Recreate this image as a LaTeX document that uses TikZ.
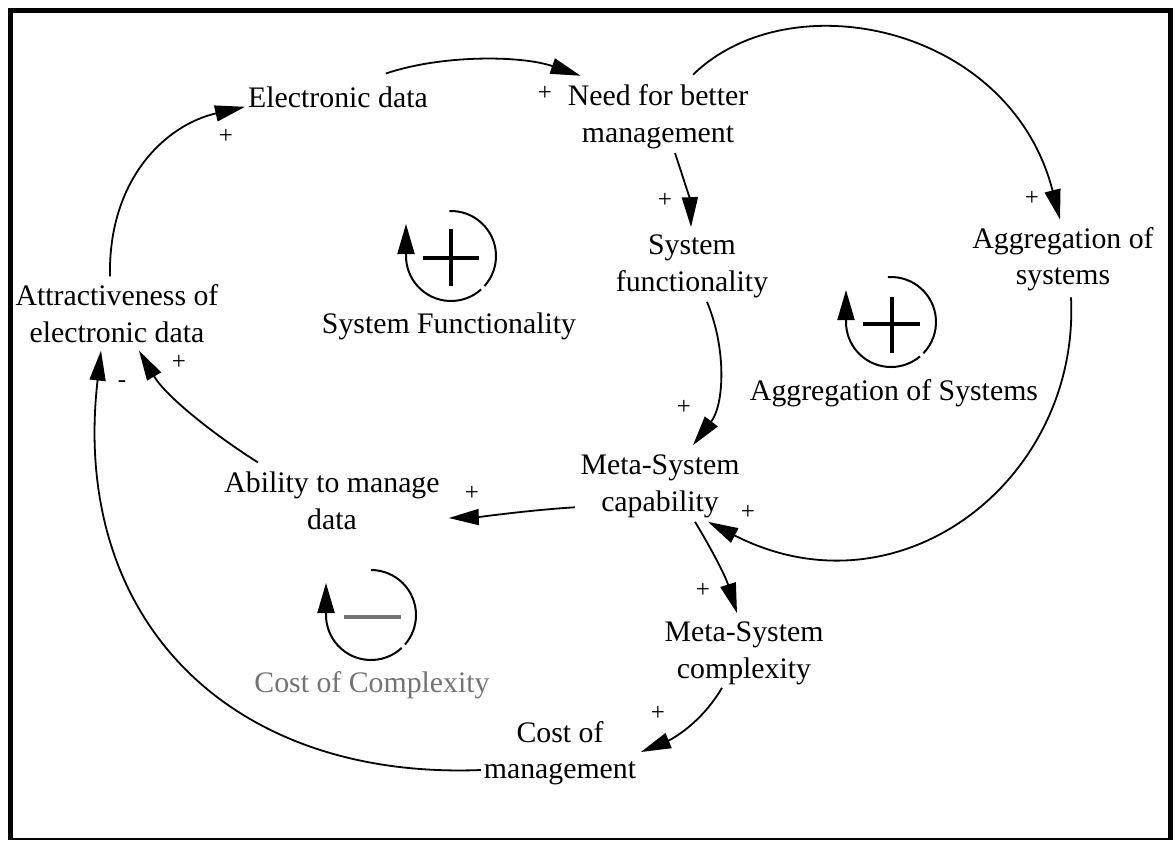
\documentclass[tikz,border=0pt]{standalone}
\usepackage{fontspec}
\setmainfont{Liberation Serif}
\usetikzlibrary{arrows.meta,calc}
\definecolor{loopgrey}{gray}{0.45}
\begin{document}
\begin{tikzpicture}[x=1pt,y=-1pt,
  var/.style={inner sep=0pt,align=center,font=\fontsize{29.8pt}{36.5pt}\selectfont},
  pol/.style={inner sep=0pt,font=\fontsize{25pt}{25pt}\selectfont},
  link/.style={line width=1.8pt,-{Triangle[length=30pt,width=16pt]}},
  loopline/.style={line width=2pt},
  looptip/.style={line width=2pt,-{Triangle[length=30pt,width=17pt]}},
  loopmark/.style={line width=3.5pt},
]
\useasboundingbox (0,0) rectangle (1175,841);

% outer frame
\draw[line width=5pt] (10.5,838) -- (10.5,10.5) -- (1170.5,10.5) -- (1170.5,838);
\draw[line width=2pt] (8,838.5) -- (1173,838.5);

% variables
\node[var] (ed)   at (338,97.8)   {Electronic data};
\node[var] (need) at (658,116.5)  {Need for better\\management};
\node[var] (sf)   at (692,266.3)  {System\\functionality};
\node[var] (agg)  at (1063,259.3) {Aggregation of\\systems};
\node[var] (attr) at (117,313.5)  {Attractiveness of\\electronic data};
\node[var] (abl)  at (332,501)    {Ability to manage\\data};
\node[var] (msc)  at (660,486.3)  {Meta-System\\capability};
\node[var] (msx)  at (744,653.3)  {Meta-System\\complexity};
\node[var] (com)  at (560,753.3)  {Cost of\\management};

% causal links
\draw[link] ($(attr.north)+(-7,-8)$) .. controls (108,180) and (165,125) .. ($(ed.west)+(-3,9)$);
\draw[link] ($(ed.north east)+(-42,-13.6)$) .. controls (440,55) and (520,55) .. ($(need.north west)+(13,-8.6)$);
\draw[link] ($(need.north)+(35,-9.6)$) .. controls (790,-20) and (1010,25) .. ($(agg.north)+(-3,-7.6)$);
\draw[link] ($(need.south)+(17,4.5)$) .. controls (684,180) and (690,200) .. ($(sf.north)+(-1,-7.6)$);
\draw[link] ($(sf.south)+(15,4)$) .. controls (727,350) and (724,405) .. ($(msc.north)+(33,-9.6)$);
\draw[link] ($(msc.west)+(-5.5,21)$) .. controls (530,510) and (480,517) .. ($(abl.east)+(9,17)$);
\draw[link] ($(agg.south)+(8,6)$) .. controls (1080,480) and (900,620) .. ($(msc.south)+(48,4)$);
\draw[link] ($(msc.south)+(35,4)$) .. controls (712,550) and (725,575) .. ($(msx.north)+(-7,-8.6)$);
\draw[link] ($(msx.south)+(-22,3)$) .. controls (700,725) and (670,740) .. ($(com.east)+(4.6,-1.3)$);
\draw[link] ($(com.west)+(-2.6,16.7)$) .. controls (230,780) and (70,620) .. ($(attr.south)+(-16,8)$);
\draw[link] ($(abl.north)+(-74,-9.6)$) .. controls (210,432) and (165,395) .. ($(attr.south)+(22,8)$);

% link polarities
\node[pol] (p1)  at (226,136) {+};
\node[pol] (p2)  at (545,93)  {+};
\node[pol] (p3)  at (1032,198) {+};
\node[pol] (p4)  at (665,200) {+};
\node[pol] (p5)  at (684,407) {+};
\node[pol] (p6)  at (472,493) {+};
\node[pol] (p7)  at (748,512) {+};
\node[pol] (p8)  at (703,590) {+};
\node[pol] (p9)  at (658,713) {+};
\node[pol] (p10) at (122,384) {-};
\node[pol] (p11) at (179,362) {+};

% loop: System Functionality (reinforcing)
\coordinate (sfc) at (451,256);
\draw[loopline] ($(sfc)+(-92:45)$) arc[start angle=-92,end angle=42,radius=45];
\draw[looptip] ($(sfc)+(48:45)$) arc[start angle=48,end angle=180,radius=45] -- ++(0,-32);
\draw[loopmark] ($(sfc)+(-28,2)$) -- ($(sfc)+(28,2)$);
\draw[loopmark] ($(sfc)+(0,-27)$) -- ($(sfc)+(0,30)$);
\node[var] (sfl) at (449,326) {System Functionality};

% loop: Aggregation of Systems (reinforcing)
\coordinate (agc) at (891,322);
\draw[loopline] ($(agc)+(-94:45)$) arc[start angle=-94,end angle=44,radius=45];
\draw[looptip] ($(agc)+(50:45)$) arc[start angle=50,end angle=180,radius=45] -- ++(0,-32);
\draw[loopmark] ($(agc)+(-28,2)$) -- ($(agc)+(29,2)$);
\draw[loopmark] ($(agc)+(1,-25)$) -- ($(agc)+(1,31)$);
\node[var] (agl) at (894,393) {Aggregation of Systems};

% loop: Cost of Complexity (balancing)
\coordinate (ccc) at (371,615);
\draw[loopline] ($(ccc)+(-90:45)$) arc[start angle=-90,end angle=41,radius=45];
\draw[looptip] ($(ccc)+(47:45)$) arc[start angle=47,end angle=180,radius=45] -- ++(0,-32);
\draw[loopmark,loopgrey] ($(ccc)+(-27,2)$) -- ($(ccc)+(30,2)$);
\node[var,text=loopgrey] (ccl) at (372,685) {Cost of Complexity};

\end{tikzpicture}
\end{document}
